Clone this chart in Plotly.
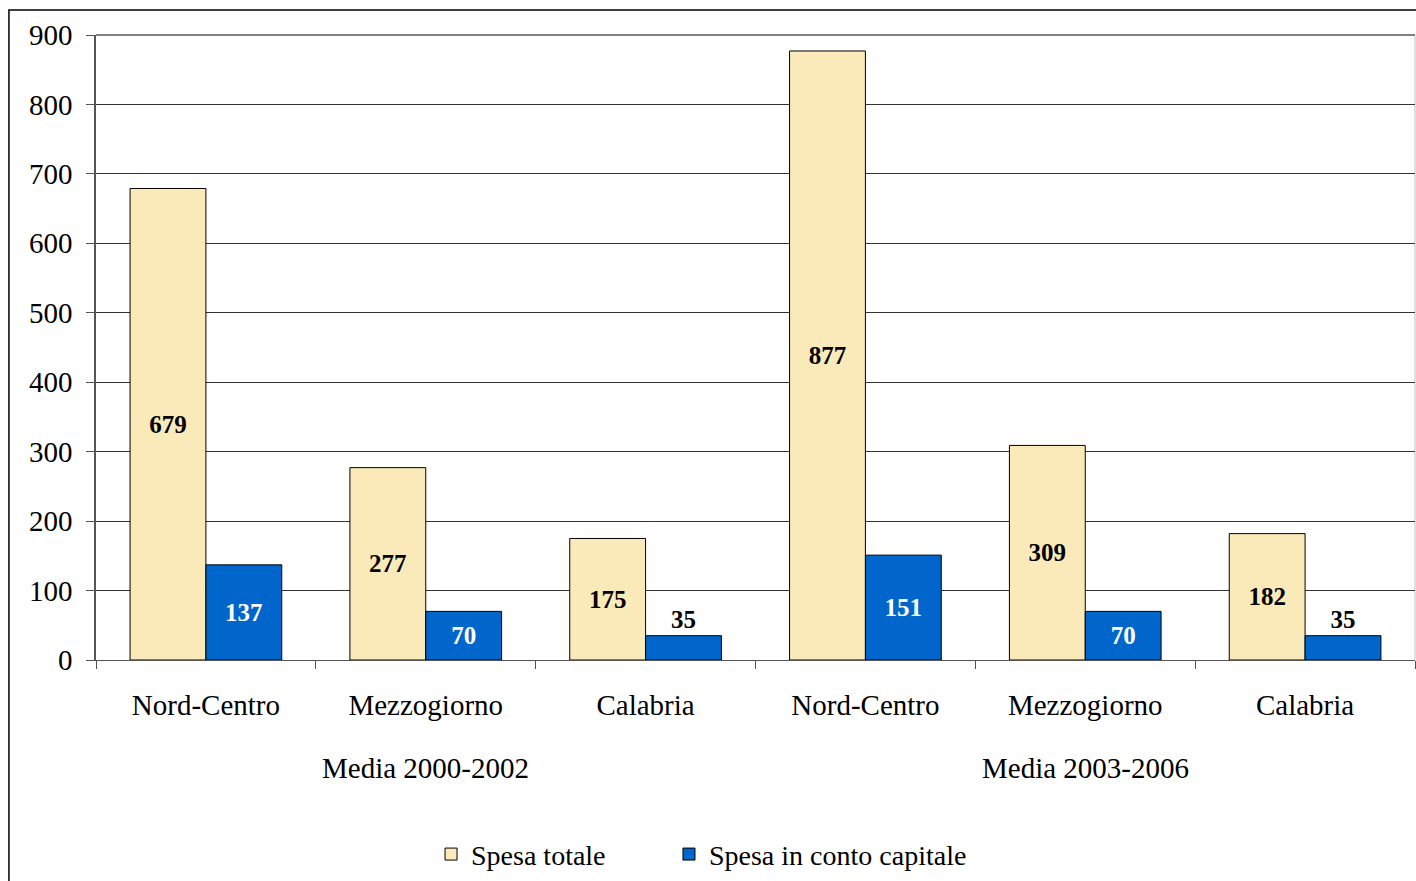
import plotly.graph_objects as go

periods = ["Media 2000-2002"] * 3 + ["Media 2003-2006"] * 3
areas = ["Nord-Centro", "Mezzogiorno", "Calabria"] * 2
spesa_totale = [679, 277, 175, 877, 309, 182]
spesa_capitale = [137, 70, 35, 151, 70, 35]
y_ticks = [0, 100, 200, 300, 400, 500, 600, 700, 800, 900]

FONT = "Liberation Serif, Times New Roman, serif"

xpos = list(range(len(areas)))
group_names = list(dict.fromkeys(periods))
n_groups = len(group_names)

def positions(vals):
    return ["inside" if v >= 50 else "outside" for v in vals]

fig = go.Figure()
fig.add_trace(go.Bar(
    x=xpos, y=spesa_totale, name="Spesa totale",
    marker=dict(color="#FAEAB9", line=dict(color="#000000", width=1)),
    text=spesa_totale, textposition=positions(spesa_totale),
    insidetextanchor="middle",
    textfont=dict(family=FONT, size=25, color="#000000", weight="bold"),
    insidetextfont=dict(color="#000000"),
    outsidetextfont=dict(color="#000000"),
    legend="legend",
))
fig.add_trace(go.Bar(
    x=xpos, y=spesa_capitale, name="Spesa in conto capitale",
    marker=dict(color="#0066CC", line=dict(color="#000000", width=1)),
    text=spesa_capitale, textposition=positions(spesa_capitale),
    insidetextanchor="middle",
    textfont=dict(family=FONT, size=25, weight="bold"),
    insidetextfont=dict(color="#FFFFFF"),
    outsidetextfont=dict(color="#000000"),
    cliponaxis=False,
    legend="legend2",
))

annotations = [
    dict(text=g, xref="paper", yref="paper", x=(i + 0.5) / n_groups, y=-0.172,
         xanchor="center", yanchor="middle", showarrow=False,
         font=dict(family=FONT, size=29, color="#000000"))
    for i, g in enumerate(group_names)
]

legend_style = dict(orientation="h", xanchor="left", y=-0.311, yanchor="middle",
                    font=dict(size=28), itemwidth=30, bgcolor="rgba(0,0,0,0)")

fig.update_layout(
    width=1416, height=881,
    margin=dict(l=96, r=1, t=35, b=219),
    paper_bgcolor="white", plot_bgcolor="white",
    font=dict(family=FONT, size=29, color="#000000"),
    barmode="group", bargap=0.31, bargroupgap=0,
    showlegend=True,
    legend=dict(x=0.2540, **legend_style),
    legend2=dict(x=0.4344, **legend_style),
    annotations=annotations,
    shapes=[
        dict(type="rect", xref="paper", yref="paper",
             x0=-0.0660, x1=1.05, y0=-0.5, y1=1.0399,
             line=dict(color="#000000", width=1.5), layer="below"),
        dict(type="line", xref="paper", yref="paper", x0=1, x1=1, y0=0, y1=1,
             line=dict(color="#C0C0C0", width=1), layer="below"),
        dict(type="line", xref="paper", yref="paper", x0=0, x1=1, y0=1, y1=1,
             line=dict(color="#808080", width=2), layer="below"),
    ],
)
fig.update_xaxes(
    range=[-0.5, len(areas) - 0.5],
    tickmode="array", tickvals=xpos, ticktext=areas, ticks="",
    minor=dict(tickmode="array", tickvals=[p - 0.5 for p in xpos] + [xpos[-1] + 0.5],
               ticks="outside", ticklen=8, tickcolor="#555555", showgrid=False),
    showgrid=False, zeroline=False,
    showline=True, linecolor="#555555", linewidth=1,
    tickfont=dict(size=29), ticklabelstandoff=19,
)
fig.update_yaxes(
    range=[0, 900], tickvals=y_ticks, ticks="outside", ticklen=8, tickcolor="#555555",
    showgrid=True, gridcolor="#333333", gridwidth=1,
    showline=True, linecolor="#555555", linewidth=1.5,
    tickfont=dict(size=29), zeroline=False, ticklabelstandoff=8,
)
fig.write_html("out.html", config={"displayModeBar": False},
               post_script="document.body.style.margin='0';")
